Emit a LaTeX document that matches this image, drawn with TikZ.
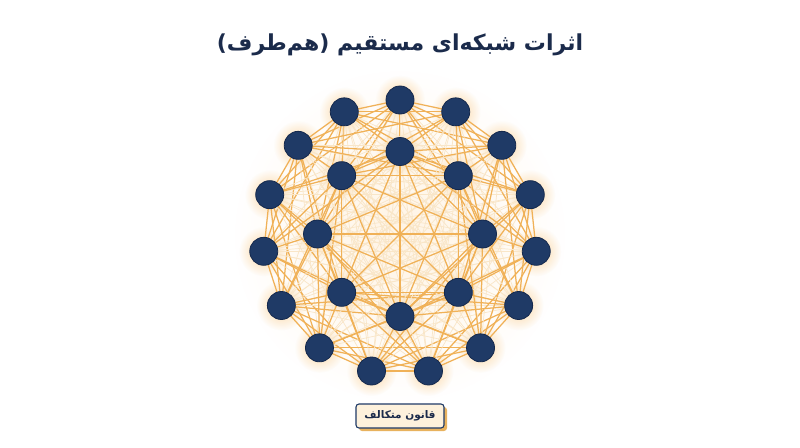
\documentclass[tikz,border=0pt]{standalone}
\usepackage{fontspec}
\newfontfamily\arabicfont[Script=Arabic]{DejaVu Sans}
\TeXXeTstate=1
\usetikzlibrary{calc,fadings,shadows}
\definecolor{navy}{HTML}{1F3A66}
\definecolor{navyline}{HTML}{15294D}
\definecolor{titlec}{HTML}{1B2B4B}
\definecolor{edgec}{HTML}{F0B157}
\definecolor{faintc}{HTML}{F9E6C8}
\definecolor{glowc}{HTML}{FAD49E}
\definecolor{creamc}{HTML}{FFF4E4}
\definecolor{boxfill}{HTML}{FDF1DC}
\definecolor{boxshadow}{HTML}{E8B25E}
\tikzfading[name=glowfade, inner color=transparent!0, outer color=transparent!100]
\pgfdeclarelayer{glow}
\pgfdeclarelayer{edges}
\pgfsetlayers{glow,edges,main}
\tikzset{
  netnode/.style={circle, minimum size=28pt, inner sep=0pt, fill=navy, draw=navyline, line width=0.8pt},
  strongedge/.style={draw=edgec, line width=1.25pt},
  faintedge/.style={draw=faintc, line width=0.7pt},
  titletext/.style={text=titlec, font=\arabicfont\bfseries\fontsize{22}{26}\selectfont},
  labelbox/.style={draw=navy, fill=boxfill, line width=1.1pt, rounded corners=3pt, minimum width=88pt, minimum height=24pt, inner sep=0pt, text=titlec, font=\arabicfont\bfseries\fontsize{10.5}{13}\selectfont}
}
\begin{document}
\begin{tikzpicture}[x=1pt,y=-1pt]
\begin{pgfonlayer}{glow}
\fill[white] (0,0) rectangle (800,447);
\end{pgfonlayer}
\useasboundingbox (0,0) rectangle (800,447);
% nodes
\foreach \k in {0,...,14}{
  \pgfmathtruncatemacro\nn{\k+1}
  \node[netnode] (n\nn) at ({400+137*cos(90+24*\k)},{237-137*sin(90+24*\k)}) {};
}
\foreach \k in {0,...,7}{
  \pgfmathtruncatemacro\nn{\k+16}
  \node[netnode] (n\nn) at ({400+82.5*cos(90+45*\k)},{234-82.5*sin(90+45*\k)}) {};
}
% glow
\begin{pgfonlayer}{glow}
  \fill[creamc, path fading=glowfade] (400,236) circle (165);
  \foreach \i in {1,...,23}{
    \fill[glowc, path fading=glowfade] (n\i.center) circle (25);
  }
\end{pgfonlayer}
% edges
\begin{pgfonlayer}{edges}
\foreach \i in {1,...,22}{
  \pgfmathtruncatemacro\s{\i+1}
  \foreach \j in {\s,...,23}{
    \pgfpointdiff{\pgfpointanchor{n\i}{center}}{\pgfpointanchor{n\j}{center}}%
    \pgfgetlastxy{\ax}{\ay}%
    \pgfmathveclen{\ax}{\ay}%
    \ifdim\pgfmathresult pt<180pt\relax
      \draw[strongedge] (n\i.center) -- (n\j.center);
    \else
      \draw[faintedge] (n\i.center) -- (n\j.center);
    \fi
  }
}
\end{pgfonlayer}
% title
\node[titletext] (title) at (400,45) {\beginR اثرات شبکه^^^^200cای مستقیم (هم^^^^200cطرف)\endR};
% label
\fill[boxshadow, rounded corners=3pt] (359,407) rectangle (447,431);
\node[labelbox] (law) at (400,416) {\beginR قانون متکالف\endR};
\end{tikzpicture}
\end{document}
